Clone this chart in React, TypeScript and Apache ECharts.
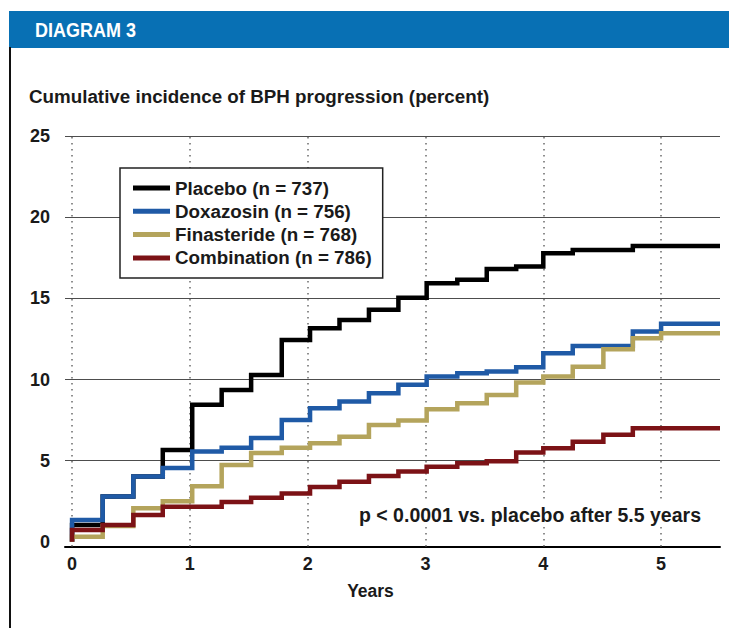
import { useEffect, useRef } from "react";
import * as echarts from "echarts";

// Step times (years) shared by all Kaplan–Meier curves
const stepYears = [0, 0, 0.26, 0.52, 0.77, 1.02, 1.27, 1.52, 1.78, 2.02, 2.27, 2.52, 2.77, 3.01, 3.27, 3.52, 3.77, 4.0, 4.25, 4.51, 4.76, 5.0, 5.5];
const placebo = [0, 1.04, 2.79, 4.02, 5.66, 8.45, 9.36, 10.28, 12.44, 13.16, 13.67, 14.29, 15.03, 15.93, 16.14, 16.8, 16.96, 17.78, 17.98, 17.98, 18.23, 18.23, 18.23];
const doxazosin = [0, 1.35, 2.79, 4.02, 4.55, 5.56, 5.79, 6.4, 7.51, 8.23, 8.64, 9.16, 9.67, 10.18, 10.39, 10.49, 10.76, 11.62, 12.07, 12.07, 12.95, 13.43, 13.43];
const finasteride = [0, 0.32, 0.98, 2.07, 2.5, 3.42, 4.74, 5.48, 5.79, 6.08, 6.48, 7.2, 7.47, 8.17, 8.54, 9.05, 9.81, 10.18, 10.79, 11.87, 12.54, 12.85, 12.85];
const combination = [0, 0.73, 1.04, 1.66, 2.17, 2.17, 2.45, 2.72, 2.98, 3.38, 3.71, 4.06, 4.33, 4.63, 4.84, 4.96, 5.5, 5.77, 6.17, 6.59, 7.0, 7.0, 7.0];

const seriesNames = ["Placebo (n = 737)", "Doxazosin (n = 756)", "Finasteride (n = 768)", "Combination (n = 786)"];
const seriesColors = ["#000000", "#1f5aa6", "#b4a45c", "#7c1216"];
const xTickLabels = [0, 1, 2, 3, 4, 5];
const yTickLabels = [0, 5, 10, 15, 20, 25];

const headerText = "DIAGRAM 3";
const titleText = "Cumulative incidence of BPH progression (percent)";
const xAxisTitle = "Years";
const noteText = "p < 0.0001 vs. placebo after 5.5 years";

const FONT = "'Liberation Sans', Arial, Helvetica, sans-serif";

export default function App() {
  const ref = useRef<HTMLDivElement>(null);

  useEffect(() => {
    if (!ref.current) return;
    const chart = echarts.init(ref.current, null, { renderer: "svg" });
    const values = [placebo, doxazosin, finasteride, combination];
    const curves = values.map((vals, i) => ({
      name: seriesNames[i],
      type: "line",
      step: "end",
      data: stepYears.map((t, k) => [t, vals[k]]),
      symbol: "none",
      silent: true,
      z: 3,
      lineStyle: { color: seriesColors[i], width: 4.5, join: "miter", cap: "butt" },
      itemStyle: { color: seriesColors[i] },
    }));

    const gridSeries = {
      type: "line",
      data: [],
      silent: true,
      z: 1,
      markLine: {
        silent: true,
        z: 1,
        symbol: ["none", "none"],
        label: { show: false },
        animation: false,
        data: [
          ...xTickLabels.map((t) => ({
            xAxis: t,
            lineStyle: { type: [1.5, 4.5], color: "#6a6a6a", width: 1.5 },
          })),
          ...yTickLabels.slice(1).map((v) => ({
            yAxis: v,
            lineStyle: { type: "solid", color: "#4d4d4d", width: 1.2 },
          })),
        ],
      },
    };

    const tickFont = { fontFamily: FONT, fontWeight: "bold", fontSize: 18, color: "#1a1a1a" };

    chart.setOption({
      animation: false,
      backgroundColor: "#ffffff",
      grid: { left: 65, right: 9, top: 136, bottom: 81.6 },
      xAxis: {
        type: "value",
        min: -0.06,
        max: 5.5,
        axisLine: { show: true, onZero: false, lineStyle: { color: "#000", width: 2 } },
        axisTick: { show: false },
        splitLine: { show: false },
        axisLabel: { customValues: xTickLabels, margin: 9, ...tickFont },
      },
      yAxis: {
        type: "value",
        min: -0.28,
        max: 25,
        axisLine: { show: false },
        axisTick: { show: false },
        splitLine: { show: false },
        axisLabel: { customValues: yTickLabels, margin: 15, ...tickFont },
      },
      legend: {
        data: seriesNames,
        orient: "vertical",
        left: 120,
        top: 168,
        z: 20,
        backgroundColor: "#fff",
        borderColor: "#222",
        borderWidth: 1.5,
        borderRadius: 0,
        padding: [10, 11, 10, 13],
        itemWidth: 37,
        itemHeight: 5,
        itemGap: 3.3,
        icon: "rect",
        selectedMode: false,
        textStyle: { fontFamily: FONT, fontWeight: "bold", fontSize: 18.8, color: "#1a1a1a", lineHeight: 20 },
      },
      graphic: [
        {
          type: "rect",
          shape: { x: 9, y: 11, width: 720, height: 37 },
          style: { fill: "#0870b4" },
          silent: true,
        },
        {
          type: "text",
          x: 35,
          y: 30,
          scaleY: 1.12,
          style: {
            text: headerText,
            fill: "#ffffff",
            font: `bold 18px ${FONT}`,
            textAlign: "left",
            textVerticalAlign: "middle",
          },
          silent: true,
        },
        {
          type: "line",
          shape: { x1: 10, y1: 47, x2: 10, y2: 628 },
          style: { stroke: "#111", lineWidth: 2 },
          silent: true,
        },
        {
          type: "text",
          x: 29,
          y: 96,
          style: {
            text: titleText,
            fill: "#1a1a1a",
            font: `bold 18.8px ${FONT}`,
            textAlign: "left",
            textVerticalAlign: "middle",
          },
          silent: true,
        },
        {
          type: "text",
          x: 370.5,
          y: 591,
          style: {
            text: xAxisTitle,
            fill: "#1a1a1a",
            font: `bold 17.5px ${FONT}`,
            textAlign: "center",
            textVerticalAlign: "middle",
          },
          silent: true,
        },
        {
          type: "text",
          x: 704,
          y: 515,
          z: 10,
          style: {
            text: noteText,
            fill: "#1a1a1a",
            font: `bold 19.5px ${FONT}`,
            textAlign: "right",
            textVerticalAlign: "middle",
            backgroundColor: "#ffffff",
            padding: [2, 3],
          },
          silent: true,
        },
      ],
      series: [gridSeries, ...curves],
    });

    return () => chart.dispose();
  }, []);

  return (
    <div
      ref={ref}
      style={{ position: "absolute", left: 0, top: 0, width: 729, height: 628, background: "#fff" }}
    />
  );
}
